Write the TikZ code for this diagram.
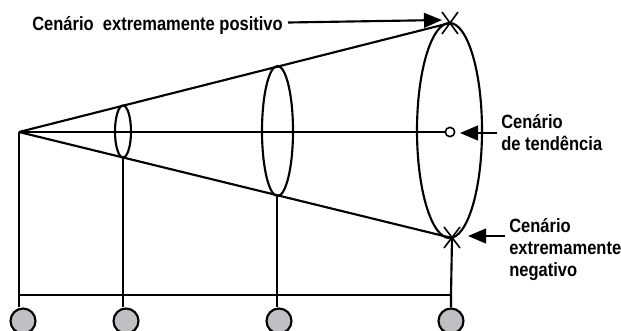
\documentclass[tikz,border=0pt]{standalone}
\usepackage{fontspec}
\newfontfamily\labfont{Liberation Sans}[FakeStretch=0.86]
\usetikzlibrary{arrows.meta}
\definecolor{dotgray}{RGB}{191,191,196}
\begin{document}
\begin{tikzpicture}[x=0.75pt,y=-0.75pt,
  ln/.style={line width=1.6pt},
  arr/.style={line width=1.6pt,-{Triangle[length=13.5pt,width=11pt]}},
  dot/.style={circle,draw,line width=1.6pt,fill=dotgray,minimum size=18.75pt,inner sep=0pt},
  lab/.style={font=\labfont\bfseries\fontsize{14.4}{16.5}\selectfont,inner sep=0pt,align=left},
  xm/.style={line width=1.2pt}]
\useasboundingbox (0,0) rectangle (621,330);
% key points
\coordinate (apex) at (19,132);
\coordinate (top) at (450,23);
\coordinate (bot) at (452,238);
\coordinate (e1b) at (123,157.5);
\coordinate (e2b) at (277,196);
\coordinate (h0) at (19,295);
\coordinate (h1) at (123,295);
\coordinate (h2) at (277,295);
\coordinate (h3) at (451,295);
% ellipses
\draw[ln] (123,131.5) ellipse [x radius=8, y radius=26];
\draw[ln] (277.5,131) ellipse [x radius=15.5, y radius=65];
\draw[ln] (449.5,130.5) ellipse [x radius=32.5, y radius=107.5];
% cone
\draw[ln] (apex) -- (top);
\draw[ln] (apex) -- (bot);
\node[circle,draw,line width=1.2pt,fill=white,minimum size=7pt,inner sep=0pt] (tend) at (450,132) {};
\draw[ln] (apex) -- (tend);
% X marks
\draw[xm] (442,12) -- (458,34) (458,12) -- (442,34);
\draw[xm] (444,227) -- (460,248) (460,227) -- (444,248);
% base circles
\node[dot] (c0) at (23,321) {};
\node[dot] (c1) at (126,321) {};
\node[dot] (c2) at (279,321) {};
\node[dot] (c3) at (451,321) {};
% verticals and base line
\draw[ln] (apex) -- (h0) -- (h0 |- c0.north);
\draw[ln] (e1b) -- (h1) -- (h1 |- c1.north);
\draw[ln] (e2b) -- (h2) -- (h2 |- c2.north);
\draw[ln] (bot) -- (h3) -- (c3.north);
\draw[ln] (h0) -- (h3);
% labels
\node[lab,anchor=base west] (lpos) at (32,30) {Cenário\ \ extremamente positivo};
\node[lab,anchor=base west] (ltend) at (501,150) {Cenário\\de tendência};
\node[lab,anchor=base west] (lneg) at (509,276) {Cenário\\extremamente\\negativo};
% arrows
\coordinate (apos) at (288,22.5);
\coordinate (apostip) at (442,20);
\coordinate (atend) at (497,133);
\coordinate (atendtip) at (460,133);
\coordinate (aneg) at (505,236);
\coordinate (anegtip) at (468,236);
\draw[arr] (apos) -- (apostip);
\draw[arr] (atend) -- (atendtip);
\draw[arr] (aneg) -- (anegtip);
\end{tikzpicture}
\end{document}
